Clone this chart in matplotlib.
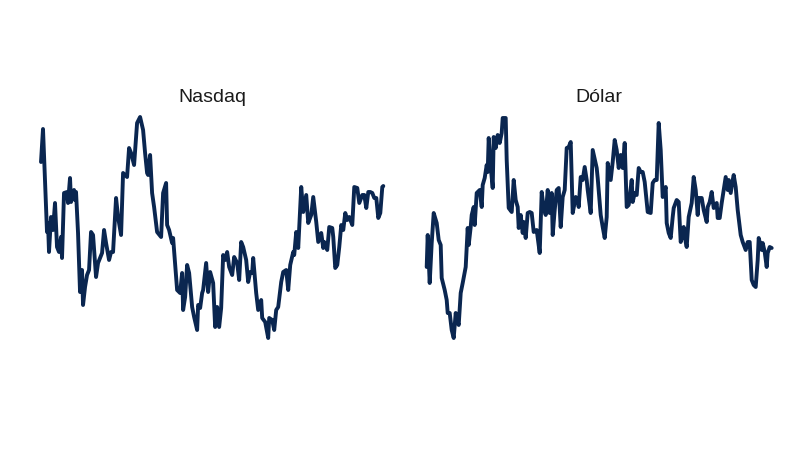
import matplotlib
matplotlib.use("Agg")
import matplotlib.pyplot as plt

# Nasdaq (day index, level)
nasdaq_t = [1, 3, 7, 8, 9, 11, 13, 15, 17, 19, 21, 22, 24, 27, 28, 30, 31, 34, 35, 36,
            38, 40, 42, 43, 45, 47, 49, 51, 53, 56, 58, 62, 64, 66, 69, 71, 73, 76, 78, 81,
            83, 87, 89, 91, 94, 96, 97, 100, 103, 105, 107, 108, 110, 112, 114, 117, 121, 123, 126, 127,
            129, 132, 133, 137, 140, 142, 143, 145, 147, 149, 152, 154, 157, 158, 160, 162, 163, 166, 168, 170,
            173, 175, 177, 179, 181, 183, 185, 187, 189, 192, 194, 197, 199, 201, 203, 206, 208, 210, 212, 213,
            216, 218, 221, 222, 225, 228, 229, 232, 234, 236, 238, 241, 243, 246, 248, 250, 253, 254, 256, 258,
            261, 263, 266, 268, 271, 273, 276, 278, 281, 283, 284, 287, 289, 292, 293, 295, 297, 299, 301, 303,
            305, 307, 309, 312, 314, 317, 319, 322, 324, 326, 328, 330, 332, 334, 336, 338, 340, 342, 343]
nasdaq_v = [188, 221, 118, 127, 98, 133, 120, 147, 103, 98, 113, 92, 157, 158, 147, 172, 148, 160, 150, 158,
            117, 58, 80, 45, 63, 75, 80, 118, 115, 73, 87, 97, 120, 107, 90, 98, 98, 152, 133, 115,
            177, 173, 202, 197, 185, 212, 227, 233, 220, 197, 177, 175, 195, 157, 143, 118, 113, 157, 167, 125,
            120, 107, 112, 60, 57, 77, 40, 53, 85, 77, 43, 33, 20, 45, 42, 57, 60, 87, 58, 78,
            67, 23, 43, 23, 42, 95, 90, 98, 83, 75, 93, 87, 70, 108, 103, 90, 68, 78, 77, 92,
            57, 40, 50, 32, 28, 12, 32, 30, 20, 40, 43, 68, 78, 80, 60, 85, 98, 95, 118, 102,
            163, 138, 155, 127, 135, 153, 128, 108, 117, 102, 108, 100, 123, 122, 113, 82, 85, 103, 125, 120,
            137, 130, 133, 125, 163, 162, 147, 155, 155, 142, 158, 158, 157, 152, 152, 132, 137, 163, 164]

# Dólar (day index, level)
dolar_t = [1, 2, 4, 6, 8, 11, 13, 15, 16, 19, 21, 22, 24, 26, 28, 30, 32, 33, 35, 37,
           40, 42, 43, 45, 46, 48, 49, 51, 52, 54, 56, 57, 59, 61, 62, 63, 65, 67, 68, 70,
           72, 74, 76, 77, 80, 81, 83, 86, 88, 90, 92, 93, 95, 97, 98, 100, 102, 104, 106, 108,
           111, 114, 116, 118, 120, 122, 124, 126, 127, 129, 131, 133, 135, 137, 139, 141, 143, 145, 147, 150,
           152, 153, 155, 157, 159, 161, 162, 165, 167, 171, 172, 175, 177, 179, 181, 182, 185, 187, 189, 191,
           193, 195, 197, 199, 201, 203, 206, 207, 209, 211, 213, 215, 217, 219, 222, 225, 227, 229, 231, 233,
           235, 237, 240, 241, 243, 245, 247, 248, 251, 253, 255, 257, 258, 260, 261, 263, 266, 268, 270, 272,
           273, 276, 278, 281, 282, 284, 286, 288, 291, 292, 294, 296, 298, 300, 302, 303, 305, 307, 308, 310,
           312, 315, 317, 320, 322, 324, 326, 328, 330, 332, 333, 336, 337, 339, 341, 342, 344, 346]
dolar_v = [83, 115, 67, 107, 137, 127, 110, 105, 72, 60, 50, 37, 37, 20, 12, 37, 28, 25, 57, 67,
           83, 122, 105, 123, 135, 143, 125, 157, 158, 160, 143, 165, 172, 185, 178, 212, 183, 162, 213, 202,
           215, 207, 217, 232, 232, 190, 142, 138, 170, 150, 143, 122, 135, 117, 128, 112, 137, 138, 137, 118,
           120, 97, 158, 142, 135, 160, 137, 157, 115, 140, 160, 162, 123, 153, 160, 202, 203, 208, 137, 153,
           150, 143, 173, 170, 183, 170, 160, 137, 200, 182, 172, 135, 123, 112, 133, 187, 170, 188, 210, 200,
           182, 195, 182, 207, 143, 145, 170, 148, 157, 155, 182, 178, 178, 168, 138, 137, 167, 170, 170, 227,
           200, 153, 163, 127, 117, 112, 133, 142, 150, 148, 108, 115, 123, 108, 103, 133, 147, 173, 160, 135,
           152, 152, 140, 128, 143, 148, 158, 142, 147, 132, 132, 147, 160, 173, 160, 170, 157, 170, 175, 163,
           140, 115, 108, 100, 108, 108, 70, 65, 63, 90, 112, 100, 107, 98, 83, 97, 103, 102]

titles = ["Nasdaq", "Dólar"]
series = [(nasdaq_t, nasdaq_v), (dolar_t, dolar_v)]

LINE = "#0a2650"
W, H = 800, 450
fig = plt.figure(figsize=(8, 4.5), dpi=100)
fig.patch.set_facecolor("white")

panels = [(41, 383.3), (426.7, 771.7)]
top_px, bot_px = 110, 345
for (x0, x1), (t, v), title in zip(panels, series, titles):
    ax = fig.add_axes([x0 / W, 1 - bot_px / H, (x1 - x0) / W, (bot_px - top_px) / H])
    ax.plot(t, v, color=LINE, lw=2.8, solid_joinstyle="round", solid_capstyle="round", clip_on=False)
    ax.set_xlim(min(t), max(t))
    ax.set_ylim(5, 240)
    ax.axis("off")
    ax.text(0.5, (bot_px - 97) / (bot_px - top_px), title, transform=ax.transAxes,
            ha="center", va="center", fontsize=14, color="#1a1a1a",
            family=["Liberation Sans", "DejaVu Sans"])

fig.savefig("out.png", dpi=100, facecolor="white")
